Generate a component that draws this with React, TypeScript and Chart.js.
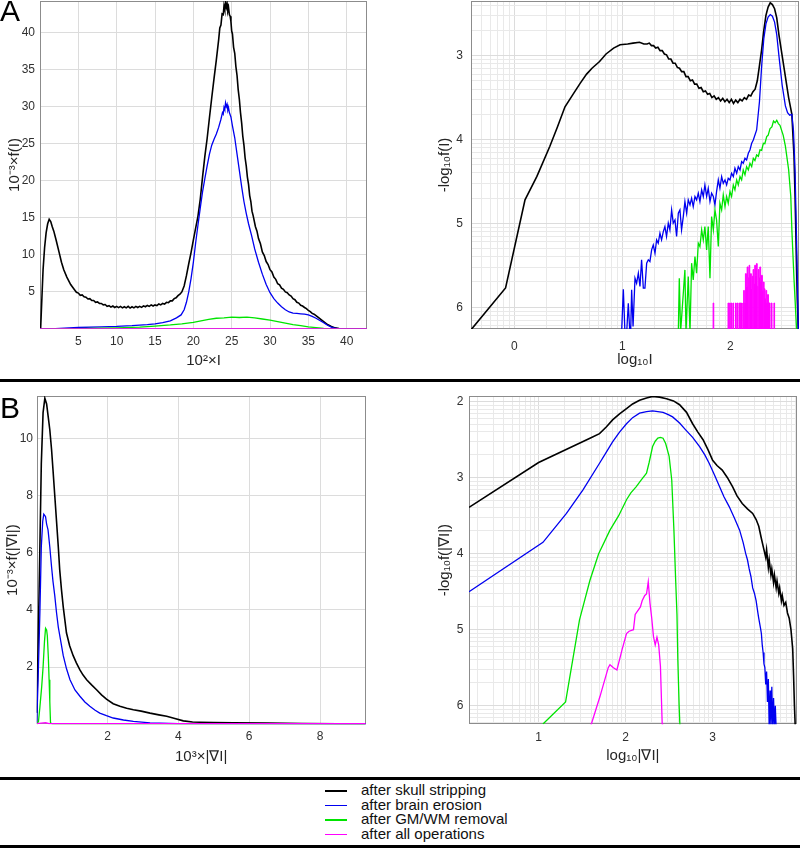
import React, { useEffect, useRef } from 'react';
import { Chart, registerables } from 'chart.js';

Chart.register(...registerables);

type Pt = [number, number];

// ---------- shared ----------
const SERIES_LABELS = ['after skull stripping', 'after brain erosion', 'after GM/WM removal', 'after all operations'];
const SERIES_COLORS = ['#000000', '#0000f0', '#00e400', '#ff00ff'];
const SERIES_WIDTHS = [1.6, 1.3, 1.3, 1.3];
const FONT = '"Liberation Sans", Arial, Helvetica, sans-serif';

// ---------- Panel A, left: 10^-3 x f(I) vs 10^2 x I ----------
const A1_X_TICKS = [5, 10, 15, 20, 25, 30, 35, 40];
const A1_Y_TICKS = [5, 10, 15, 20, 25, 30, 35, 40];
const A1_BLACK: Pt[] = [
  [0.08, 0], [0.2, 3], [0.4, 8], [0.6, 11], [0.8, 13], [1.0, 14.2], [1.2, 14.8], [1.4, 14.5], [1.6, 13.8], [1.8, 13.2],
  [2.1, 12], [2.5, 10.3], [2.8, 9], [3.1, 8], [3.5, 7], [4.0, 6],
  [4.5, 5.3], [4.75, 4.95], [5.0, 4.85], [5.25, 4.55], [5.5, 4.6], [5.75, 4.35], [6.0, 4.3], [6.25, 4.05],
  [6.5, 4.1], [6.75, 3.85], [7.0, 3.85], [7.25, 3.6], [7.5, 3.65], [7.75, 3.45], [8.0, 3.45], [8.25, 3.25],
  [8.5, 3.3], [8.75, 3.05], [9.0, 3.15], [9.25, 2.95], [9.5, 3.1], [9.75, 2.9], [10, 3.05], [10.25, 2.88],
  [10.5, 3.05], [10.75, 2.85], [11, 3.0], [11.25, 2.85], [11.5, 3.05], [11.75, 2.82], [12, 3.0], [12.25, 2.85],
  [12.5, 3.05], [12.75, 2.9], [13, 3.05], [13.25, 2.92], [13.5, 3.12], [13.75, 3.0], [14, 3.18], [14.25, 3.05],
  [14.5, 3.25], [14.75, 3.1], [15, 3.25], [15.25, 3.15], [15.5, 3.38], [15.75, 3.25], [16, 3.45], [16.25, 3.35],
  [16.5, 3.6], [16.75, 3.55], [17, 3.8], [17.25, 3.8], [17.5, 4.1], [17.75, 4.2], [18, 4.5], [18.25, 4.7],
  [18.5, 5.0], [18.8, 5.8], [19.1, 7.2],
  [19.4, 8.8], [19.7, 10.3], [20.0, 12], [20.3, 13.6], [20.6, 15.2], [20.9, 17.5], [21.2, 20.5], [21.5, 23.3],
  [21.8, 25.7], [22.1, 28.5], [22.4, 31.2], [22.7, 33.8], [23.0, 36.3], [23.3, 39], [23.45, 40.6], [23.6, 41.0],
  [23.75, 42.5], [23.9, 42.4], [24.0, 43.6], [24.1, 43.1], [24.2, 44.0], [24.3, 43.4], [24.4, 43.9], [24.5, 42.9],
  [24.6, 43.3], [24.7, 42.4], [24.8, 42.2], [24.9, 41.5], [25.0, 40.2], [25.1, 39.8], [25.25, 38.0], [25.4, 37.2],
  [25.55, 35.4], [25.7, 34.2], [25.85, 32.3], [26.0, 31], [26.15, 29.2], [26.3, 27.8], [26.45, 26.0],
  [26.6, 24.8], [26.75, 23.1], [26.9, 22], [27.05, 20.5], [27.2, 19.5], [27.35, 18.0], [27.5, 17.2], [27.65, 15.9],
  [27.8, 15.3], [28.1, 13.8], [28.3, 13.2], [28.5, 12.2], [28.75, 11.5], [29.0, 10.4], [29.25, 9.9], [29.5, 9.1],
  [29.75, 8.7], [30.0, 8.0], [30.25, 7.7], [30.5, 7.0], [30.75, 6.7], [31.0, 6.1], [31.25, 5.95], [31.5, 5.5],
  [31.75, 5.35], [32.0, 5.0], [32.25, 4.9], [32.5, 4.6], [32.75, 4.45], [33.0, 4.1], [33.25, 3.95], [33.5, 3.6],
  [33.75, 3.5], [34.0, 3.2], [34.25, 3.1], [34.5, 2.9], [34.75, 2.75], [35.0, 2.5], [35.25, 2.35], [35.5, 2.1],
  [35.75, 2.0], [36.0, 1.8], [36.5, 1.4], [37.0, 1.0], [37.5, 0.6], [38.0, 0.35], [38.5, 0.15], [39.0, 0.06],
  [40, 0.02], [42.7, 0],
];
const A1_BLUE: Pt[] = [
  [0, 0], [2, 0.05], [5, 0.2], [8, 0.3], [10, 0.35], [12, 0.45], [14, 0.6], [15, 0.7], [16, 0.85], [17, 1.1],
  [17.8, 1.5], [18.4, 1.9], [18.8, 2.6], [19.1, 3.6], [19.4, 5.0], [19.7, 6.8], [20.0, 9.0], [20.3, 11.6],
  [20.6, 14], [20.9, 16.3], [21.2, 18.5], [21.5, 20.3], [21.8, 22], [22.1, 23.6], [22.4, 24.8], [22.7, 25.6],
  [23.0, 26.3], [23.3, 27.2], [23.6, 28.3], [23.8, 29.2], [23.9, 29.0], [24.0, 29.9], [24.1, 29.6], [24.2, 30.5],
  [24.3, 30.0], [24.4, 30.3], [24.5, 29.5], [24.6, 29.8], [24.7, 29.2], [24.9, 28.6], [25.1, 27.4], [25.4, 25.8],
  [25.7, 23.6], [26.0, 21.4], [26.3, 19.2], [26.6, 17.2], [26.9, 15.6], [27.2, 14.2], [27.6, 12.6], [28.0, 10.8],
  [28.5, 9.0], [29.0, 7.4], [29.5, 6.0], [30.0, 4.9], [30.5, 4.1], [31.0, 3.5], [31.5, 3.0], [32.0, 2.6],
  [32.5, 2.3], [33.0, 2.15], [33.5, 2.1], [34.0, 2.05], [34.5, 2.0], [35.0, 1.9], [35.5, 1.7], [36.0, 1.45],
  [36.5, 1.15], [37.0, 0.85], [37.5, 0.5], [38.0, 0.25], [38.5, 0.1], [39.0, 0.03], [40, 0], [42.7, 0],
];
const A1_GREEN: Pt[] = [
  [0, 0], [5, 0.05], [10, 0.15], [13, 0.25], [15, 0.4], [17, 0.55], [18.5, 0.7], [20, 0.9], [21, 1.1], [22, 1.3],
  [23, 1.45], [24, 1.5], [25, 1.6], [26, 1.55], [27, 1.6], [28, 1.5], [29, 1.35], [30, 1.2], [31, 1.0], [32, 0.8],
  [33, 0.6], [34, 0.45], [35, 0.3], [36, 0.18], [37, 0.08], [38, 0.02], [39, 0], [42.7, 0],
];
const A1_MAGENTA: Pt[] = [[0, 0.03], [42.7, 0.03]];

// ---------- Panel A, right: -log10 f(I) vs log10 I ----------
const A2_X_TICKS = [0, 1, 2];
const A2_Y_TICKS = [3, 4, 5, 6];
const A2_BLACK: Pt[] = [
  [-0.40, 6.27], [-0.08, 5.77], [0.10, 4.72], [0.21, 4.44], [0.33, 4.08], [0.40, 3.85], [0.47, 3.61], [0.55, 3.45],
  [0.61, 3.33], [0.67, 3.22], [0.72, 3.15], [0.79, 3.07], [0.85, 2.98], [0.92, 2.91], [0.98, 2.87], [1.05, 2.86],
  [1.10, 2.85], [1.16, 2.84], [1.20, 2.86], [1.23, 2.86], [1.25, 2.85], [1.27, 2.88], [1.29, 2.88], [1.31, 2.91],
  [1.33, 2.90], [1.35, 2.94], [1.37, 2.94], [1.39, 2.98], [1.41, 2.99], [1.43, 3.04], [1.45, 3.04], [1.47, 3.09],
  [1.49, 3.09], [1.51, 3.14], [1.53, 3.15], [1.55, 3.19], [1.57, 3.19], [1.59, 3.25], [1.61, 3.25], [1.63, 3.30],
  [1.65, 3.29], [1.67, 3.34], [1.69, 3.34], [1.71, 3.39], [1.73, 3.38], [1.75, 3.43], [1.77, 3.42], [1.79, 3.46],
  [1.81, 3.45], [1.83, 3.50], [1.85, 3.48], [1.87, 3.52], [1.89, 3.50], [1.91, 3.54], [1.93, 3.51], [1.95, 3.55],
  [1.97, 3.52], [1.99, 3.56], [2.01, 3.52], [2.03, 3.57], [2.05, 3.53], [2.07, 3.56], [2.09, 3.52], [2.11, 3.54],
  [2.13, 3.50], [2.15, 3.52], [2.17, 3.47], [2.19, 3.48], [2.21, 3.43], [2.23, 3.40], [2.25, 3.3],
  [2.27, 3.12], [2.29, 2.93], [2.31, 2.7], [2.33, 2.52], [2.35, 2.42], [2.37, 2.37], [2.39, 2.39], [2.41, 2.44],
  [2.43, 2.55], [2.45, 2.75], [2.48, 3.0], [2.51, 3.25], [2.54, 3.5], [2.57, 3.7], [2.59, 4.2], [2.60, 4.7],
  [2.61, 5.3], [2.62, 5.9], [2.63, 6.3],
];
const A2_BLUE: Pt[] = [
  [0.994, 6.3], [1.010, 5.785], [1.025, 6.3], [1.041, 6.3], [1.056, 5.952], [1.070, 6.3], [1.078, 6.3],
  [1.087, 5.793], [1.100, 6.23], [1.108, 6.23], [1.118, 5.654], [1.133, 5.714], [1.149, 5.594], [1.164, 5.753],
  [1.179, 5.435], [1.195, 5.773], [1.210, 5.773], [1.226, 5.475], [1.241, 5.435], [1.256, 5.455], [1.272, 5.316],
  [1.287, 5.257], [1.303, 5.356], [1.318, 5.197], [1.333, 5.237], [1.349, 5.118], [1.364, 5.197], [1.380, 5.098],
  [1.395, 5.038], [1.410, 5.157], [1.426, 4.998], [1.441, 5.078], [1.457, 4.84], [1.472, 4.998], [1.488, 4.959],
  [1.503, 5.157], [1.519, 4.879], [1.534, 4.84], [1.549, 5.078], [1.565, 4.919], [1.580, 4.74], [1.596, 4.879],
  [1.611, 4.72], [1.627, 4.78], [1.642, 4.70], [1.657, 4.80], [1.673, 4.68], [1.688, 4.72], [1.704, 4.641],
  [1.719, 4.74], [1.735, 4.601], [1.750, 4.68], [1.765, 4.542], [1.781, 4.68], [1.796, 4.581], [1.812, 4.74],
  [1.827, 4.641], [1.843, 4.68], [1.858, 4.78], [1.873, 4.621], [1.889, 4.482], [1.904, 4.581], [1.920, 4.442],
  [1.935, 4.522], [1.951, 4.482], [1.966, 4.542], [1.981, 4.462], [1.997, 4.482], [2.012, 4.403], [2.028, 4.442],
  [2.043, 4.343], [2.059, 4.403], [2.074, 4.323], [2.090, 4.363], [2.105, 4.263], [2.120, 4.283], [2.136, 4.224],
  [2.151, 4.244], [2.167, 4.164], [2.182, 4.124], [2.198, 4.045], [2.213, 4.005], [2.244, 3.886], [2.27, 3.55],
  [2.29, 3.13], [2.31, 2.8], [2.33, 2.62], [2.35, 2.54], [2.37, 2.51], [2.39, 2.53], [2.41, 2.6], [2.43, 2.75],
  [2.45, 3.0], [2.48, 3.35], [2.51, 3.6], [2.53, 3.68], [2.55, 3.71], [2.57, 3.7], [2.585, 3.9], [2.60, 4.4],
  [2.61, 5.0], [2.62, 5.6], [2.63, 6.3],
];
const A2_GREEN: Pt[] = [
  [1.519, 6.3], [1.528, 5.654], [1.540, 6.3], [1.580, 5.555], [1.590, 6.3], [1.611, 5.634], [1.627, 6.3],
  [1.642, 5.475], [1.657, 5.674], [1.673, 5.396], [1.688, 5.594], [1.704, 5.237], [1.719, 5.277], [1.735, 5.078],
  [1.750, 5.197], [1.765, 5.038], [1.781, 5.316], [1.796, 5.038], [1.812, 5.654], [1.827, 4.919], [1.843, 5.078],
  [1.858, 4.84], [1.873, 4.959], [1.889, 5.277], [1.904, 4.76], [1.920, 4.84], [1.935, 4.661], [1.951, 4.80],
  [1.966, 4.68], [1.981, 4.76], [1.997, 4.621], [2.012, 4.68], [2.028, 4.542], [2.043, 4.601], [2.059, 4.482],
  [2.074, 4.542], [2.090, 4.442], [2.105, 4.482], [2.120, 4.363], [2.136, 4.422], [2.151, 4.323], [2.167, 4.363],
  [2.182, 4.283], [2.198, 4.323], [2.213, 4.224], [2.228, 4.25], [2.244, 4.184], [2.26, 4.2], [2.275, 4.124],
  [2.29, 4.13], [2.306, 4.045], [2.32, 4.05], [2.337, 3.965], [2.35, 3.95], [2.368, 3.87], [2.385, 3.85],
  [2.40, 3.78], [2.415, 3.8], [2.43, 3.77], [2.445, 3.81], [2.46, 3.83], [2.49, 3.95], [2.51, 4.08], [2.54, 4.36],
  [2.56, 4.68], [2.57, 5.08], [2.59, 5.67], [2.615, 6.3],
];
const A2_MAGENTA: Pt[] = [
  [1.838, 6.4], [1.841, 5.95], [1.847, 6.4],
  [1.979, 5.95], [1.985, 6.4], [1.994, 5.95], [2.000, 6.4], [2.010, 5.95], [2.016, 6.4], [2.025, 5.95], [2.031, 6.4],
  [2.048, 5.95], [2.054, 6.4], [2.062, 5.95], [2.068, 6.4], [2.080, 5.95], [2.086, 6.4], [2.091, 5.95], [2.097, 6.4],
  [2.104, 5.95], [2.110, 6.4], [2.118, 5.95], [2.124, 5.8], [2.130, 6.4],
  [2.134, 5.95], [2.140, 5.60], [2.149, 5.75], [2.156, 5.52], [2.165, 5.65], [2.171, 6.4], [2.174, 5.50],
  [2.180, 5.70], [2.187, 5.60], [2.195, 5.78], [2.202, 5.63], [2.208, 6.4], [2.211, 5.55], [2.218, 5.72],
  [2.226, 5.50], [2.234, 5.62], [2.242, 5.48], [2.249, 5.75], [2.255, 6.4], [2.258, 5.55], [2.265, 5.65],
  [2.273, 5.52], [2.281, 5.70], [2.289, 5.62], [2.297, 5.80], [2.303, 6.4], [2.306, 5.70], [2.313, 5.78],
  [2.321, 5.90], [2.329, 5.80], [2.337, 5.95], [2.345, 5.85], [2.353, 5.95], [2.361, 5.95], [2.368, 6.4],
  [2.380, 5.95], [2.386, 6.4], [2.404, 5.95], [2.410, 6.4], [2.42, 6.4],
];

// ---------- Panel B, left: 10^-3 x f(|grad I|) vs 10^3 x |grad I| ----------
const B1_X_TICKS = [2, 4, 6, 8];
const B1_Y_TICKS = [2, 4, 6, 8, 10];
const B1_BLACK: Pt[] = [
  [0, 0.4], [0.04, 2.7], [0.09, 6.2], [0.13, 9.1], [0.18, 10.9], [0.23, 11.4], [0.28, 11.2], [0.32, 10.8],
  [0.37, 10.3], [0.42, 9.6], [0.46, 8.9], [0.51, 8.0], [0.56, 7.1], [0.61, 6.2], [0.65, 5.4], [0.70, 4.7],
  [0.75, 4.1], [0.80, 3.6], [0.84, 3.2], [0.93, 2.75], [1.03, 2.4], [1.12, 2.15], [1.22, 1.9], [1.31, 1.72],
  [1.41, 1.56], [1.55, 1.38], [1.69, 1.21], [1.83, 1.03], [1.97, 0.88], [2.16, 0.72], [2.35, 0.63], [2.54, 0.56],
  [2.73, 0.51], [2.95, 0.46], [3.2, 0.39], [3.45, 0.33], [3.67, 0.28], [3.9, 0.2], [4.14, 0.12], [4.4, 0.08],
  [4.6, 0.07], [5.0, 0.06], [5.55, 0.05], [6.5, 0.04], [7.5, 0.03], [8.5, 0.02], [9.3, 0.02],
];
const B1_BLUE: Pt[] = [
  [0, 0.05], [0.04, 1.56], [0.09, 3.9], [0.13, 6.2], [0.17, 7.1], [0.2, 7.35], [0.23, 7.3], [0.25, 7.26],
  [0.28, 7.0], [0.32, 6.8], [0.37, 6.2], [0.42, 5.5], [0.46, 5.0], [0.51, 4.5], [0.56, 3.9], [0.61, 3.4],
  [0.68, 2.9], [0.75, 2.4], [0.84, 1.95], [0.94, 1.56], [1.08, 1.2], [1.22, 0.98], [1.36, 0.78], [1.5, 0.63],
  [1.64, 0.5], [1.78, 0.39], [1.97, 0.3], [2.16, 0.22], [2.45, 0.15], [2.73, 0.1], [3.2, 0.05], [4.0, 0.02],
  [9.3, 0.01],
];
const B1_GREEN: Pt[] = [
  [0, 0], [0.05, 0.1], [0.09, 0.6], [0.14, 1.3], [0.18, 2.0], [0.22, 2.9], [0.25, 3.36], [0.28, 3.3], [0.3, 3.1],
  [0.33, 2.3], [0.35, 1.56], [0.37, 0.8], [0.39, 0.05], [0.45, 0], [9.3, 0],
];
const B1_MAGENTA: Pt[] = [[0, 0.02], [0.25, 0.06], [0.35, 0.02], [9.3, 0.02]];

// ---------- Panel B, right: -log10 f(|grad I|) vs log10 |grad I| ----------
const B2_X_TICKS = [1, 2, 3];
const B2_Y_TICKS = [2, 3, 4, 5, 6];
const B2_BLACK: Pt[] = [
  [0.2, 3.39], [1.0, 2.8], [1.59, 2.48], [1.70, 2.42], [1.78, 2.33], [1.85, 2.24], [1.93, 2.16], [2.01, 2.09],
  [2.08, 2.03], [2.16, 1.98], [2.24, 1.95], [2.31, 1.93], [2.39, 1.94], [2.47, 1.96], [2.55, 1.99], [2.62, 2.04],
  [2.70, 2.14], [2.77, 2.29], [2.83, 2.4], [2.89, 2.5], [2.95, 2.64], [3.0, 2.77], [3.05, 2.84], [3.11, 2.9],
  [3.17, 3.0], [3.23, 3.12], [3.28, 3.24], [3.34, 3.34], [3.40, 3.41], [3.46, 3.47], [3.50, 3.55], [3.53, 3.64],
  [3.56, 3.8], [3.59, 3.95], [3.61, 4.05], [3.62, 3.95], [3.64, 4.18], [3.65, 4.08], [3.67, 4.28], [3.68, 4.2],
  [3.70, 4.38], [3.71, 4.28], [3.73, 4.45], [3.74, 4.36], [3.76, 4.52], [3.77, 4.45], [3.79, 4.62], [3.80, 4.55],
  [3.82, 4.68], [3.84, 4.64], [3.86, 4.78], [3.88, 4.85], [3.90, 5.0], [3.92, 5.25], [3.93, 5.6], [3.94, 6.0],
  [3.95, 6.3],
];
const B2_BLUE: Pt[] = [
  [0.2, 4.5], [1.05, 3.85], [1.32, 3.47], [1.51, 3.16], [1.70, 2.81], [1.78, 2.66], [1.85, 2.53], [1.93, 2.4],
  [2.01, 2.29], [2.08, 2.21], [2.16, 2.15], [2.24, 2.13], [2.31, 2.12], [2.37, 2.13], [2.43, 2.14], [2.49, 2.17],
  [2.54, 2.2], [2.62, 2.28], [2.69, 2.37], [2.77, 2.47], [2.85, 2.59], [2.91, 2.7], [2.96, 2.81], [3.02, 2.96],
  [3.08, 3.12], [3.13, 3.25], [3.19, 3.38], [3.25, 3.53], [3.31, 3.69], [3.35, 3.85], [3.38, 4.0], [3.40, 4.08],
  [3.42, 4.2], [3.44, 4.3], [3.46, 4.45], [3.48, 4.52], [3.50, 4.62], [3.52, 4.78], [3.53, 4.85], [3.55, 4.98],
  [3.56, 5.05], [3.57, 5.2], [3.58, 5.3], [3.59, 5.45], [3.60, 5.5], [3.61, 5.72], [3.62, 5.55], [3.63, 5.95],
  [3.64, 5.65], [3.65, 6.3], [3.66, 5.8], [3.67, 6.3], [3.68, 5.75], [3.69, 6.3], [3.70, 5.9], [3.71, 6.3],
  [3.72, 6.0], [3.73, 6.3],
];
const B2_GREEN: Pt[] = [
  [1.05, 6.24], [1.31, 5.95], [1.47, 4.87], [1.59, 4.35], [1.69, 4.0], [1.82, 3.69], [1.92, 3.5], [2.01, 3.29],
  [2.06, 3.2], [2.12, 3.12], [2.18, 3.03], [2.24, 2.94], [2.27, 2.8], [2.31, 2.59], [2.34, 2.52], [2.37, 2.48],
  [2.40, 2.47], [2.43, 2.48], [2.46, 2.55], [2.50, 2.72], [2.53, 3.03], [2.555, 3.69], [2.575, 4.35], [2.59, 4.8],
  [2.60, 5.4], [2.615, 6.0], [2.625, 6.3],
];
const B2_MAGENTA: Pt[] = [
  [1.59, 6.3], [1.705, 5.88], [1.80, 5.5], [1.82, 5.46], [1.86, 5.5], [1.90, 5.53], [1.96, 5.26], [2.01, 5.05],
  [2.04, 5.02], [2.09, 5.0], [2.11, 4.8], [2.17, 4.7], [2.19, 4.62], [2.22, 4.55], [2.24, 4.53], [2.26, 4.37],
  [2.28, 4.65], [2.30, 4.85], [2.32, 5.09], [2.34, 5.2], [2.36, 5.1], [2.38, 5.2], [2.40, 5.48], [2.42, 6.23],
  [2.425, 6.3],
];

// ---------- panel definitions ----------
interface PanelDef {
  id: string;
  left: number; top: number; width: number; height: number;
  pad: { left: number; top: number; right: number; bottom: number };
  yWidth: number; xHeight: number;
  xMin: number; xMax: number; yMin: number; yMax: number; yReverse: boolean;
  xMajor: number[]; yMajor: number[]; logGrid: boolean;
  xTitle: string; yTitle: string;
  xTickPad: number; yTickPad: number; xTitlePad: number; yTitlePad: number;
  series: Pt[][];
  stepFillLast?: number;
}

const PANELS: PanelDef[] = [
  {
    id: 'A1', left: 0, top: 0, width: 400, height: 378,
    pad: { left: 0, top: 1, right: 33, bottom: 0 }, yWidth: 40, xHeight: 49,
    xMin: 0, xMax: 42.65, yMin: 0, yMax: 44.25, yReverse: false,
    xMajor: A1_X_TICKS, yMajor: A1_Y_TICKS, logGrid: false,
    xTitle: '10²×I', yTitle: '10⁻³×f(I)',
    xTickPad: 5.5, yTickPad: 5, xTitlePad: 8.0, yTitlePad: 6.0,
    series: [A1_BLACK, A1_BLUE, A1_GREEN, A1_MAGENTA],
  },
  {
    id: 'A2', left: 400, top: 0, width: 400, height: 378,
    pad: { left: 0, top: 1, right: 1, bottom: 0 }, yWidth: 71, xHeight: 49,
    xMin: -0.4, xMax: 2.636, yMin: 2.348, yMax: 6.26, yReverse: true,
    xMajor: A2_X_TICKS, yMajor: A2_Y_TICKS, logGrid: true,
    xTitle: 'log₁₀I', yTitle: '-log₁₀f(I)',
    xTickPad: 10.5, yTickPad: 8, xTitlePad: 9.5, yTitlePad: 36.0,
    series: [A2_BLACK, A2_BLUE, A2_GREEN, A2_MAGENTA],
    stepFillLast: 6.6,
  },
  {
    id: 'B1', left: 0, top: 382, width: 400, height: 395,
    pad: { left: 0, top: 14, right: 34.3, bottom: 0 }, yWidth: 36.7, xHeight: 52.7,
    xMin: 0, xMax: 9.29, yMin: 0, yMax: 11.48, yReverse: false,
    xMajor: B1_X_TICKS, yMajor: B1_Y_TICKS, logGrid: false,
    xTitle: '10³×|∇I|', yTitle: '10⁻³×f(|∇I|)',
    xTickPad: 5.5, yTickPad: 3.7, xTitlePad: 11.0, yTitlePad: 4.0,
    series: [B1_BLACK, B1_BLUE, B1_GREEN, B1_MAGENTA],
  },
  {
    id: 'B2', left: 400, top: 382, width: 400, height: 395,
    pad: { left: 0, top: 14, right: 3.3, bottom: 0 }, yWidth: 69, xHeight: 52.7,
    xMin: 0.2, xMax: 3.966, yMin: 1.925, yMax: 6.245, yReverse: true,
    xMajor: B2_X_TICKS, yMajor: B2_Y_TICKS, logGrid: true,
    xTitle: 'log₁₀|∇I|', yTitle: '-log₁₀f(|∇I|)',
    xTickPad: 5.8, yTickPad: 5.7, xTitlePad: 12.5, yTitlePad: 36.0,
    series: [B2_BLACK, B2_BLUE, B2_GREEN, B2_MAGENTA],
  },
];

const LOG_STEPS = [2, 3, 4, 5, 6, 7, 8, 9];
// grid positions n + log10(k) (dense toward the upper integer)
function logGridUp(min: number, max: number): number[] {
  const out: number[] = [];
  for (let n = Math.floor(min) - 1; n <= Math.ceil(max); n++) {
    for (const k of LOG_STEPS) {
      const v = n + Math.log10(k);
      if (v > min && v < max) out.push(v);
    }
  }
  return out;
}
// grid positions n - log10(k) (dense toward the lower integer)
function logGridDown(min: number, max: number): number[] {
  const out: number[] = [];
  for (let n = Math.floor(min); n <= Math.ceil(max) + 1; n++) {
    for (const k of LOG_STEPS) {
      const v = n - Math.log10(k);
      if (v > min && v < max) out.push(v);
    }
  }
  return out;
}

const isMajor = (list: number[], v: number) => list.some((m) => Math.abs(m - v) < 1e-9);
const MAJOR_GRID = '#dcdcdc';
const MINOR_GRID = '#e9e9e9';
const TICK_COLOR = '#303030';

const boxPlugin = {
  id: 'axesBox',
  beforeDatasetsDraw(chart: any) {
    const { ctx, chartArea: a } = chart;
    ctx.save();
    ctx.strokeStyle = '#8c8c8c';
    ctx.lineWidth = 1;
    const l = Math.round(a.left) + 0.5;
    const t = Math.round(a.top) + 0.5;
    const r = Math.round(a.right) - 0.5;
    const b = Math.round(a.bottom) - 0.5;
    ctx.strokeRect(l, t, r - l, b - t);
    ctx.restore();
  },
};

function Panel({ def }: { def: PanelDef }) {
  const ref = useRef<HTMLCanvasElement | null>(null);
  useEffect(() => {
    const canvas = ref.current;
    if (!canvas) return;
    const xTicks = def.logGrid
      ? [...def.xMajor, ...logGridUp(def.xMin, def.xMax)].sort((a, b) => a - b)
      : def.xMajor.slice();
    const yTicks = def.logGrid
      ? [...def.yMajor, ...logGridDown(def.yMin, def.yMax)].sort((a, b) => a - b)
      : def.yMajor.slice();
    const gridColor = (majors: number[]) => (ctx: any) =>
      ctx.tick && isMajor(majors, ctx.tick.value) ? MAJOR_GRID : MINOR_GRID;

    const datasets = def.series.map((pts, i) => {
      const base: any = {
        label: SERIES_LABELS[i],
        data: pts.map(([x, y]) => ({ x, y })),
        showLine: true,
        borderColor: SERIES_COLORS[i],
        backgroundColor: SERIES_COLORS[i],
        borderWidth: SERIES_WIDTHS[i],
        pointRadius: 0,
        pointHoverRadius: 0,
        tension: 0,
        fill: false,
        order: 3 - i,
      };
      if (i === 3 && def.stepFillLast !== undefined) {
        base.stepped = true;
        base.fill = { value: def.stepFillLast };
        base.borderWidth = 1;
      }
      return base;
    });

    const chart = new Chart(canvas, {
      type: 'scatter',
      data: { datasets },
      options: {
        responsive: false,
        animation: false,
        devicePixelRatio: 1,
        events: [],
        layout: { padding: def.pad },
        plugins: { legend: { display: false }, tooltip: { enabled: false } },
        scales: {
          x: {
            type: 'linear',
            min: def.xMin,
            max: def.xMax,
            afterBuildTicks: (s: any) => { s.ticks = xTicks.map((v) => ({ value: v })); },
            afterFit: (s: any) => { s.height = def.xHeight; s.paddingLeft = 0; s.paddingRight = 0; },
            grid: { color: gridColor(def.xMajor), drawTicks: false, lineWidth: 1 },
            border: { display: false },
            ticks: {
              autoSkip: false, maxRotation: 0, minRotation: 0, padding: def.xTickPad,
              color: TICK_COLOR, font: { family: FONT, size: 12 },
              callback: (v: any) => (isMajor(def.xMajor, Number(v)) ? String(Math.round(Number(v))) : ''),
            },
            title: {
              display: true, text: def.xTitle, color: '#262626',
              font: { family: FONT, size: 15 }, padding: { top: 0, bottom: def.xTitlePad },
            },
          },
          y: {
            type: 'linear',
            min: def.yMin,
            max: def.yMax,
            reverse: def.yReverse,
            afterBuildTicks: (s: any) => { s.ticks = yTicks.map((v) => ({ value: v })); },
            afterFit: (s: any) => { s.width = def.yWidth; s.paddingTop = 0; s.paddingBottom = 0; },
            grid: { color: gridColor(def.yMajor), drawTicks: false, lineWidth: 1 },
            border: { display: false },
            ticks: {
              autoSkip: false, padding: def.yTickPad,
              color: TICK_COLOR, font: { family: FONT, size: 12 },
              callback: (v: any) => (isMajor(def.yMajor, Number(v)) ? String(Math.round(Number(v))) : ''),
            },
            title: {
              display: true, text: def.yTitle, color: '#262626',
              font: { family: FONT, size: 15 }, padding: { top: def.yTitlePad, bottom: 0 },
            },
          },
        },
      } as any,
      plugins: [boxPlugin],
    });
    return () => chart.destroy();
  }, [def]);
  return (
    <canvas
      ref={ref}
      width={def.width}
      height={def.height}
      style={{ position: 'absolute', left: def.left, top: def.top, width: def.width, height: def.height }}
    />
  );
}

const LEGEND_ROW_Y = [791, 805.5, 820, 834.5];

export default function App() {
  return (
    <div
      style={{
        position: 'fixed', left: 0, top: 0, width: 800, height: 848, background: '#ffffff',
        overflow: 'hidden', fontFamily: FONT,
      }}
    >
      {PANELS.map((p) => (
        <Panel key={p.id} def={p} />
      ))}
      <div style={{ position: 'absolute', left: 0, top: -4, fontSize: 30, lineHeight: '30px', color: '#000' }}>A</div>
      <div style={{ position: 'absolute', left: 0, top: 393, fontSize: 30, lineHeight: '30px', color: '#000' }}>B</div>
      <div style={{ position: 'absolute', left: 0, top: 379, width: 800, height: 3, background: '#000' }} />
      <div style={{ position: 'absolute', left: 0, top: 777, width: 800, height: 3, background: '#000' }} />
      <div style={{ position: 'absolute', left: 0, top: 845, width: 800, height: 3, background: '#000' }} />
      {SERIES_LABELS.map((label, i) => (
        <React.Fragment key={label}>
          <div
            style={{
              position: 'absolute', left: 325, top: LEGEND_ROW_Y[i] - 0.75, width: 22, height: 1.5,
              background: SERIES_COLORS[i],
            }}
          />
          <div
            style={{
              position: 'absolute', left: 361, top: LEGEND_ROW_Y[i] - 8.8, fontSize: 15, lineHeight: '15px',
              color: '#111', whiteSpace: 'nowrap',
            }}
          >
            {label}
          </div>
        </React.Fragment>
      ))}
    </div>
  );
}
